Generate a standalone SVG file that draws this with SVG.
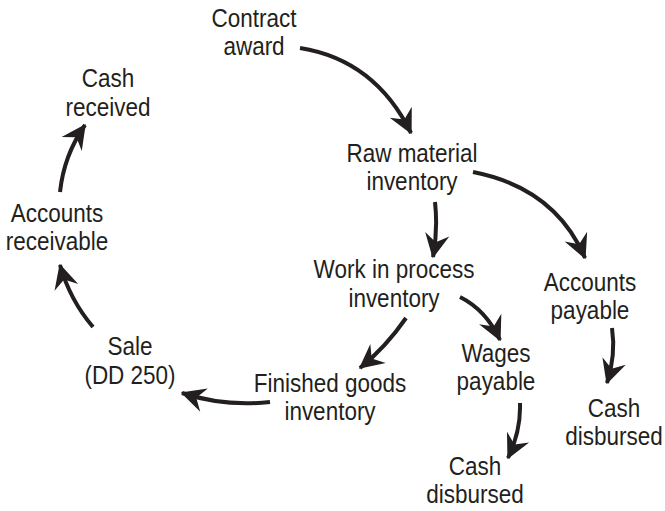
<svg xmlns="http://www.w3.org/2000/svg" width="665" height="511" viewBox="0 0 665 511">
<style>
.t{font-family:"Liberation Sans",Arial,Helvetica,sans-serif;font-size:25px;fill:#231f20;text-anchor:middle}
.c{fill:none;stroke:#231f20;stroke-width:4;stroke-linecap:butt}
</style>
<defs>
<marker id="ah" markerUnits="userSpaceOnUse" markerWidth="30" markerHeight="30" viewBox="-20 -10 22 20" refX="0" refY="0" orient="auto">
<path d="M1,0 L-17,-9 L-11,0 L-17,9 Z" fill="#231f20"/>
</marker>
</defs>
<rect width="665" height="511" fill="#ffffff"/>
<g id="contract-award"><text class="t" transform="translate(254 0) scale(0.9 1)"><tspan x="0" y="27">Contract</tspan><tspan x="0" y="55">award</tspan></text></g>
<g id="cash-received"><text class="t" transform="translate(108 0) scale(0.9 1)"><tspan x="0" y="87">Cash</tspan><tspan x="0" y="116">received</tspan></text></g>
<g id="accounts-receivable"><text class="t" transform="translate(57 0) scale(0.9 1)"><tspan x="0" y="222">Accounts</tspan><tspan x="0" y="250">receivable</tspan></text></g>
<g id="sale"><text class="t" transform="translate(130 0) scale(0.9 1)"><tspan x="0" y="355">Sale</tspan><tspan x="0" y="384">(DD 250)</tspan></text></g>
<g id="raw-material"><text class="t" transform="translate(412 0) scale(0.9 1)"><tspan x="0" y="162">Raw material</tspan><tspan x="0" y="190">inventory</tspan></text></g>
<g id="work-in-process"><text class="t" transform="translate(394 0) scale(0.9 1)"><tspan x="0" y="278">Work in process</tspan><tspan x="0" y="307">inventory</tspan></text></g>
<g id="accounts-payable"><text class="t" transform="translate(590 0) scale(0.9 1)"><tspan x="0" y="291">Accounts</tspan><tspan x="0" y="319">payable</tspan></text></g>
<g id="wages-payable"><text class="t" transform="translate(496 0) scale(0.9 1)"><tspan x="0" y="362">Wages</tspan><tspan x="0" y="390">payable</tspan></text></g>
<g id="finished-goods"><text class="t" transform="translate(330 0) scale(0.9 1)"><tspan x="0" y="392">Finished goods</tspan><tspan x="0" y="420">inventory</tspan></text></g>
<g id="cash-disbursed-1"><text class="t" transform="translate(475 0) scale(0.9 1)"><tspan x="0" y="475">Cash</tspan><tspan x="0" y="503">disbursed</tspan></text></g>
<g id="cash-disbursed-2"><text class="t" transform="translate(614 0) scale(0.9 1)"><tspan x="0" y="417">Cash</tspan><tspan x="0" y="445">disbursed</tspan></text></g>
<g id="connectors">
<path class="c" marker-end="url(#ah)" d="M300,48 Q375,60 411,133"/>
<path class="c" marker-end="url(#ah)" d="M60,192 Q64,155 85,125"/>
<path class="c" marker-end="url(#ah)" d="M93,327 Q70,300 60,265"/>
<path class="c" marker-end="url(#ah)" d="M270,402 Q225,407 182,393"/>
<path class="c" marker-end="url(#ah)" d="M435,202 Q438,230 433,257"/>
<path class="c" marker-end="url(#ah)" d="M473,172 Q555,188 585,258"/>
<path class="c" marker-end="url(#ah)" d="M406,318 Q386,347 360,368"/>
<path class="c" marker-end="url(#ah)" d="M460,297 Q486,310 500,340"/>
<path class="c" marker-end="url(#ah)" d="M612,328 Q616,355 607,383"/>
<path class="c" marker-end="url(#ah)" d="M520,403 Q521,431 508,458"/>
</g>
</svg>
